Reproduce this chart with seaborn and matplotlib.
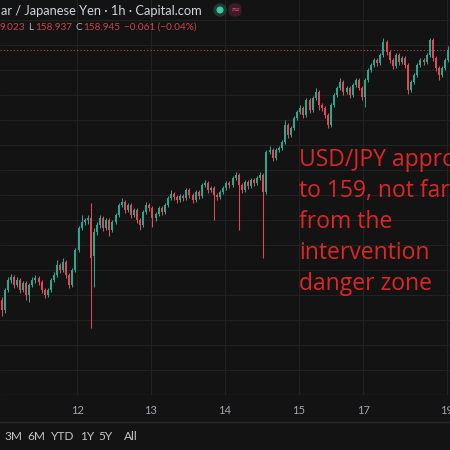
import numpy as np
import matplotlib
matplotlib.use("Agg")
import matplotlib.pyplot as plt
import seaborn as sns
from matplotlib.patches import Circle, FancyBboxPatch
from matplotlib.lines import Line2D

# ---------------- data (hourly USD/JPY candles) ----------------
opens = [
    156.45, 156.35, 156.55, 156.65, 156.68, 156.60, 156.65, 156.55, 156.62, 156.50,
    156.60, 156.65, 156.67, 156.63, 156.55, 156.50, 156.55, 156.65, 156.70, 156.80,
    156.75, 156.83, 156.70, 156.60, 156.75, 156.95, 157.17, 157.23, 157.25, 157.27,
    156.89, 157.13, 157.20, 157.27, 157.17, 157.25, 157.15, 157.23, 157.30, 157.40,
    157.43, 157.35, 157.40, 157.30, 157.35, 157.25, 157.20, 157.33, 157.40, 157.37,
    157.27, 157.31, 157.37, 157.33, 157.40, 157.47, 157.51, 157.48, 157.45, 157.49,
    157.47, 157.55, 157.50, 157.45, 157.53, 157.49, 157.60, 157.62, 157.55, 157.57,
    157.50, 157.48, 157.53, 157.57, 157.62, 157.60, 157.67, 157.70, 157.60, 157.55,
    157.63, 157.59, 157.65, 157.62, 157.67, 157.70, 157.53, 157.93, 157.95, 157.87,
    157.95, 157.97, 158.03, 158.20, 158.10, 158.17, 158.27, 158.33, 158.37, 158.30,
    158.45, 158.35, 158.47, 158.53, 158.40, 158.37, 158.30, 158.20, 158.40, 158.50,
    158.57, 158.63, 158.53, 158.57, 158.50, 158.60, 158.65, 158.57, 158.48, 158.65,
    158.75, 158.80, 158.85, 158.82, 158.90, 159.03, 158.93, 158.85, 158.79, 158.90,
    158.83, 158.87, 158.80, 158.55, 158.63, 158.70, 158.80, 158.85, 158.83, 158.90,
    159.05, 158.87, 158.77, 158.70, 158.77, 158.85,
]
closes = [
    156.35, 156.55, 156.65, 156.68, 156.60, 156.65, 156.55, 156.62, 156.50, 156.60,
    156.65, 156.67, 156.63, 156.55, 156.50, 156.55, 156.65, 156.70, 156.80, 156.75,
    156.83, 156.70, 156.60, 156.75, 156.95, 157.17, 157.23, 157.25, 157.27, 156.87,
    157.13, 157.20, 157.27, 157.17, 157.25, 157.15, 157.23, 157.30, 157.40, 157.43,
    157.35, 157.40, 157.30, 157.35, 157.25, 157.20, 157.33, 157.40, 157.37, 157.27,
    157.31, 157.37, 157.33, 157.40, 157.47, 157.51, 157.48, 157.45, 157.49, 157.47,
    157.55, 157.50, 157.45, 157.53, 157.49, 157.60, 157.62, 157.55, 157.57, 157.50,
    157.48, 157.53, 157.57, 157.62, 157.60, 157.67, 157.70, 157.60, 157.55, 157.63,
    157.59, 157.65, 157.62, 157.67, 157.70, 157.53, 157.93, 157.95, 157.87, 157.95,
    157.97, 158.03, 158.20, 158.10, 158.17, 158.27, 158.33, 158.37, 158.30, 158.45,
    158.35, 158.47, 158.53, 158.40, 158.37, 158.30, 158.20, 158.40, 158.50, 158.57,
    158.63, 158.53, 158.57, 158.50, 158.60, 158.65, 158.57, 158.48, 158.65, 158.75,
    158.80, 158.85, 158.82, 158.90, 159.03, 158.93, 158.85, 158.79, 158.90, 158.83,
    158.87, 158.80, 158.55, 158.63, 158.70, 158.80, 158.85, 158.83, 158.90, 159.05,
    158.87, 158.77, 158.70, 158.77, 158.85, 158.945,
]
highs = [
    156.48, 156.57, 156.68, 156.71, 156.70, 156.68, 156.67, 156.64, 156.64, 156.62,
    156.68, 156.70, 156.69, 156.65, 156.57, 156.57, 156.67, 156.73, 156.85, 156.82,
    156.87, 156.85, 156.72, 156.77, 156.97, 157.19, 157.30, 157.27, 157.30, 157.42,
    157.17, 157.23, 157.30, 157.29, 157.27, 157.27, 157.25, 157.32, 157.42, 157.47,
    157.45, 157.42, 157.42, 157.37, 157.37, 157.27, 157.35, 157.43, 157.42, 157.39,
    157.33, 157.39, 157.39, 157.42, 157.49, 157.55, 157.53, 157.50, 157.51, 157.51,
    157.57, 157.57, 157.52, 157.55, 157.55, 157.62, 157.65, 157.64, 157.59, 157.59,
    157.52, 157.55, 157.59, 157.64, 157.64, 157.69, 157.73, 157.72, 157.62, 157.65,
    157.65, 157.67, 157.67, 157.69, 157.73, 157.72, 157.95, 157.99, 157.97, 157.97,
    157.99, 158.05, 158.25, 158.22, 158.19, 158.29, 158.35, 158.40, 158.39, 158.47,
    158.47, 158.49, 158.57, 158.55, 158.42, 158.39, 158.32, 158.42, 158.52, 158.59,
    158.67, 158.65, 158.59, 158.59, 158.62, 158.67, 158.67, 158.59, 158.67, 158.77,
    158.82, 158.87, 158.87, 158.92, 159.07, 159.05, 158.95, 158.87, 158.92, 158.92,
    158.89, 158.89, 158.82, 158.65, 158.72, 158.82, 158.87, 158.87, 158.92, 159.07,
    159.07, 158.89, 158.79, 158.79, 158.87, 158.99,
]
lows = [
    156.29, 156.32, 156.53, 156.62, 156.57, 156.58, 156.52, 156.53, 156.45, 156.43,
    156.58, 156.62, 156.60, 156.52, 156.47, 156.48, 156.53, 156.63, 156.68, 156.72,
    156.73, 156.67, 156.57, 156.58, 156.73, 156.93, 157.15, 157.20, 157.21, 156.17,
    156.58, 157.10, 157.17, 157.14, 157.15, 157.09, 157.13, 157.21, 157.28, 157.38,
    157.32, 157.33, 157.27, 157.28, 157.22, 157.15, 157.18, 157.31, 157.34, 157.18,
    157.24, 157.29, 157.30, 157.31, 157.38, 157.45, 157.45, 157.42, 157.43, 157.44,
    157.45, 157.47, 157.42, 157.43, 157.46, 157.47, 157.58, 157.52, 157.53, 157.25,
    157.45, 157.46, 157.51, 157.55, 157.57, 157.58, 157.65, 157.15, 157.52, 157.53,
    157.56, 157.57, 157.59, 157.60, 157.65, 156.87, 157.51, 157.91, 157.84, 157.85,
    157.93, 157.95, 158.01, 158.07, 158.08, 158.15, 158.25, 158.31, 158.27, 158.28,
    158.32, 158.33, 158.45, 158.35, 158.34, 158.27, 158.17, 158.18, 158.38, 158.48,
    158.55, 158.50, 158.51, 158.47, 158.48, 158.58, 158.55, 158.45, 158.38, 158.63,
    158.73, 158.78, 158.79, 158.80, 158.88, 158.90, 158.82, 158.76, 158.77, 158.80,
    158.81, 158.77, 158.51, 158.53, 158.61, 158.68, 158.78, 158.80, 158.81, 158.88,
    158.84, 158.74, 158.65, 158.68, 158.75, 158.83,
]
day_labels = ["12", "13", "14", "15", "17", "19"]
day_boundaries = [24.5, 48.5, 72.5, 96.5, 117.5, 144.5]  # candle index where each day starts
price_grid = [155.50, 155.75, 156.00, 156.25, 156.50, 156.75, 157.00, 157.25,
              157.50, 157.75, 158.00, 158.25, 158.50, 158.75, 159.00, 159.25]
title_text = "ar / Japanese Yen \u00b7 1h \u00b7 Capital.com"
ohlc_parts = [("9.023", "red"), ("L", "gray"), ("158.937", "red"), ("C", "gray"),
              ("158.945", "red"), ("\u22120.061 (\u22120.04%)", "red")]
range_buttons = ["3M", "6M", "YTD", "1Y", "5Y", "All"]
note_lines = ["USD/JPY approaching", "to 159, not far", "from the",
              "intervention", "danger zone"]

# ---------------- style ----------------
BG = "#131313"
GRID = "#222222"
UP = "#2ea68d"
DOWN = "#e04a58"
sns.set_theme(style="darkgrid", rc={
    "axes.facecolor": BG, "figure.facecolor": BG, "grid.color": GRID,
    "grid.linewidth": 0.8, "axes.edgecolor": BG,
})
plt.rcParams["font.family"] = ["Lato", "DejaVu Sans"]

fig = plt.figure(figsize=(4.5, 4.5), dpi=100)
ax = fig.add_axes([0, 55 / 450, 1, 395 / 450])
ax.set_facecolor(BG)

o = np.array(opens); c = np.array(closes)
h = np.array(highs); l = np.array(lows)
x = np.arange(len(o))
colors = np.where(c >= o, UP, DOWN)

ax.vlines(x, l, h, colors=colors, linewidth=0.75, zorder=3)
body_bottom = np.minimum(o, c)
body_h = np.maximum(np.abs(c - o), 0.012)
ax.bar(x, body_h, bottom=body_bottom, width=0.64, color=colors, linewidth=0, zorder=4)

ax.axhline(closes[-1], color=DOWN, linestyle=(0, (1, 2)), linewidth=0.8, alpha=0.8, zorder=2)

ax.set_xlim(-0.5, 145.6)
ax.set_ylim(155.5, 159.45)
ax.set_yticks(price_grid)
ax.set_yticklabels([])
ax.set_xticks(day_boundaries)
ax.set_xticklabels(day_labels)
ax.tick_params(axis="x", colors="#a3a6ae", labelsize=8, pad=7, length=0)
ax.tick_params(axis="y", length=0)
ax.grid(True, color=GRID, linewidth=0.8)
for s in ax.spines.values():
    s.set_visible(False)
ax.axhline(155.5, color="#262626", linewidth=1.0, zorder=1)

# annotation text
note_baselines = [166, 197, 228, 259, 290]
for line, yb in zip(note_lines, note_baselines):
    fig.text(299 / 450, 1 - yb / 450, line, color="#de2626", fontsize=16.5,
             ha="left", va="baseline", family=["Open Sans", "DejaVu Sans"])

# header
fig.text(0.002, 1 - 11 / 450, title_text, color="#d1d4dc", fontsize=9.3,
         ha="left", va="center")
fig.add_artist(Circle((220 / 450, 1 - 10 / 450), 6 / 450, color="#1d3a33",
                      transform=fig.transFigure))
fig.add_artist(Circle((220 / 450, 1 - 10 / 450), 2.8 / 450, color="#3cc9a3",
                      transform=fig.transFigure))
fig.add_artist(FancyBboxPatch((229 / 450, 1 - 16 / 450), 12 / 450, 12 / 450,
                              boxstyle="round,pad=0,rounding_size=0.012",
                              color="#3a1d26", transform=fig.transFigure))
fig.text(235 / 450, 1 - 10 / 450, "\u2248", color="#e3436d", fontsize=8,
         ha="center", va="center", family=["DejaVu Sans"])

part_x = [0, 28, 35, 76, 83, 124]
for (txt, kind), px in zip(ohlc_parts, part_x):
    fig.text(px / 450, 1 - 27 / 450, txt,
             color="#c9454f" if kind == "red" else "#b2b5bd",
             fontsize=7.2, ha="left", va="center")

# separator and range buttons
fig.add_artist(Line2D([0, 1], [1 - 421.5 / 450] * 2, color="#2a2a2a", linewidth=1,
                      transform=fig.transFigure))
btn_x = [4, 27, 51, 80, 98, 124]
for txt, px in zip(range_buttons, btn_x):
    fig.text(px / 450, 1 - 437 / 450, txt, color="#c4c4c4", fontsize=8.6,
             ha="left", va="center")

fig.savefig("out.png", dpi=100, facecolor=BG)
